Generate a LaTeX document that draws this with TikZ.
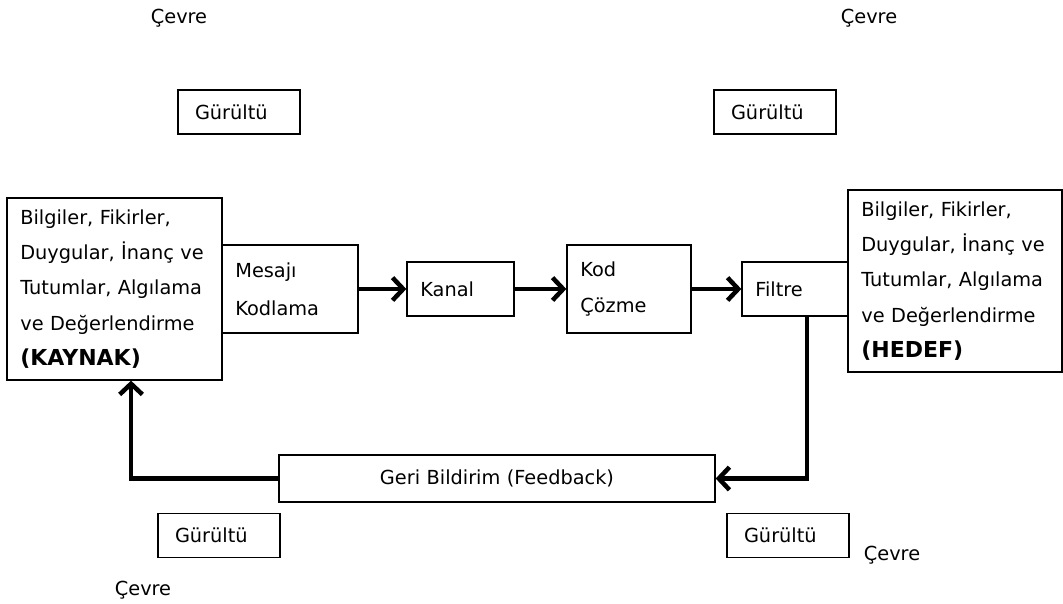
\documentclass[tikz,border=0pt]{standalone}
\usepackage{fontspec}
\setmainfont{DejaVu Sans}
\usetikzlibrary{arrows.meta}
\usetikzlibrary{positioning}

\begin{document}
\begin{tikzpicture}[x=0.75pt,y=-0.75pt,font=\fontsize{14.5}{26.5}\selectfont,
			flow/.style={-{Straight Barb[length=8pt,width=17pt]},line width=3.4pt}]
			\tikzstyle{every node}=[inner sep=0pt]
			\tikzstyle{box}=[draw,rectangle,line width=1pt,align=left,inner xsep=10pt]
			\tikzstyle{noise}=[box,text width=66pt,minimum height=33pt,inner xsep=12.75pt]
			
			\useasboundingbox (0,0) rectangle (1063,603);
			
			\node[box,text width=141.25pt,minimum height=136.5pt] (kaynak) at (114.5,289)
			{Bilgiler, Fikirler,\\Duygular, İnanç ve\\Tutumlar, Algılama\\ve Değerlendirme\\{\fontsize{16.5}{26.5}\selectfont\bfseries (KAYNAK)}};
			\node[box,text width=82pt,minimum height=66pt,font=\fontsize{14.5}{28.5}\selectfont] (kodlama) at (290,289) {Mesajı\\Kodlama};
			\node[box,text width=60.25pt,minimum height=40.5pt] (kanal) at (460.5,289) {Kanal};
			\node[box,text width=73pt,minimum height=66pt,font=\fontsize{14.5}{27}\selectfont] (cozme) at (629,289) {Kod\\Çözme};
			\node[box,text width=59.5pt,minimum height=40.5pt] (filtre) at (795,289) {Filtre};
			\node[box,text width=140.5pt,minimum height=136.5pt] (hedef) at (955,281)
			{Bilgiler, Fikirler,\\Duygular, İnanç ve\\Tutumlar, Algılama\\ve Değerlendirme\\{\fontsize{16.5}{26.5}\selectfont\bfseries (HEDEF)}};
			\node[box,align=center,text width=307pt,minimum height=35.25pt] (geri) at (497,478.5) {Geri Bildirim (Feedback)};
			
			% gurultu ve cevre
			\node[noise] (gurultu1) at (239,112) {Gürültü};
			\node[noise] (gurultu2) at (775,112) {Gürültü};
			\node[noise] (gurultu3) at (219,535.5) {Gürültü};
			\node[noise] (gurultu4) at (788,535.5) {Gürültü};
			\node (cevre1) at (179,18) {Çevre};
			\node (cevre2) at (869,18) {Çevre};
			\node (cevre3) at (892,555) {Çevre};
			\node (cevre4) at (143,590) {Çevre};
			
			\path (kodlama) edge[flow] (kanal)
			(kanal) edge[flow] (cozme)
			(cozme) edge[flow] (filtre);
			
			\draw[flow] ([xshift=9pt]filtre.south) |- (geri.east);
			\draw[flow] (geri.west) -| ([xshift=12.4pt]kaynak.south);
\end{tikzpicture}
\end{document}
